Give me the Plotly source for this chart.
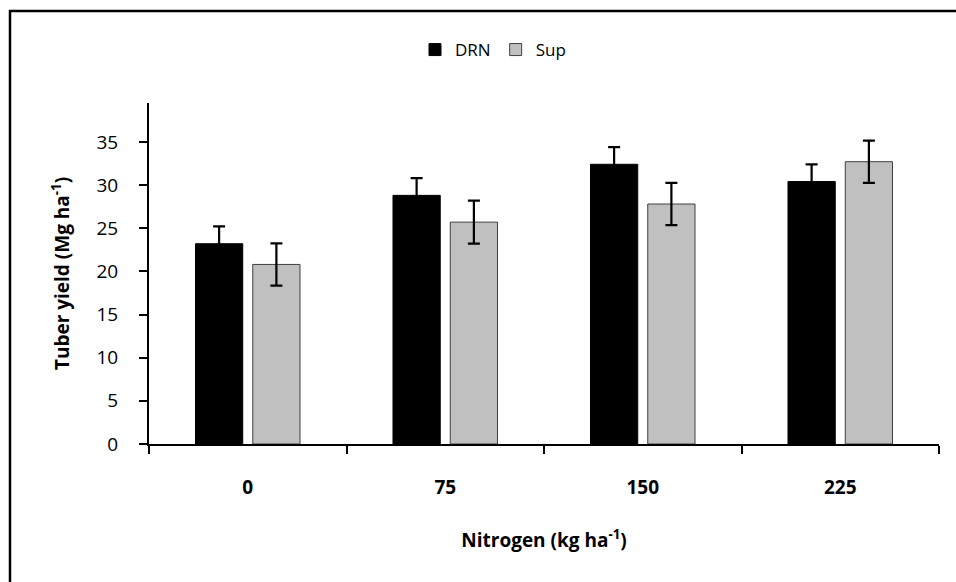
import plotly.graph_objects as go

categories = ["0", "75", "150", "225"]
drn = [23.2, 28.8, 32.4, 30.4]
drn_err = [2.0, 2.0, 2.0, 2.0]
sup = [20.8, 25.7, 27.8, 32.7]
sup_err = [2.45, 2.5, 2.45, 2.45]
y_ticks = [0, 5, 10, 15, 20, 25, 30, 35]

FONT = "'Open Sans', Lato, sans-serif"

fig = go.Figure()
fig.add_trace(go.Bar(
    name="DRN", x=categories, y=drn,
    marker=dict(color="#000000", line=dict(color="#000000", width=1)),
    error_y=dict(type="data", array=drn_err, visible=True, color="#000000", thickness=2.2, width=6),
))
fig.add_trace(go.Bar(
    name="Sup", x=categories, y=sup,
    marker=dict(color="#c0c0c0", line=dict(color="#404040", width=1)),
    error_y=dict(type="data", array=sup_err, visible=True, color="#000000", thickness=2.2, width=6),
))

W, H = 956, 582
L, T = 149, 103
R = W - 939
B = H - 444
pw = W - L - R
ph = H - T - B


def px_x(page_x):
    return (page_x - L) / pw


def px_y(page_y):
    return (H - B - page_y) / ph


fig.update_layout(
    width=W, height=H,
    margin=dict(l=L, r=R, t=T, b=B, pad=0),
    paper_bgcolor="white", plot_bgcolor="white",
    barmode="group", bargap=0.42, bargroupgap=0.175,
    font=dict(family=FONT, color="#000000", size=19),
    showlegend=True,
    legend=dict(orientation="h", x=px_x(493), xanchor="center",
                y=px_y(50), yanchor="middle",
                font=dict(size=17, family=FONT), itemwidth=30, traceorder="normal",
                bgcolor="rgba(0,0,0,0)", tracegroupgap=0),
    xaxis=dict(
        type="category", showline=True, linecolor="#000000", linewidth=2,
        ticks="outside", tickson="boundaries", ticklen=8, tickwidth=2, tickcolor="#000000",
        tickfont=dict(size=19, family=FONT, weight="bold"),
        ticklabelstandoff=25,
        showgrid=False, zeroline=False,
        title=dict(text="Nitrogen (kg ha<sup>-1</sup>)", font=dict(size=19, family=FONT, weight="bold"), standoff=35),
    ),
    yaxis=dict(
        range=[0, 39.5], tickvals=y_ticks, showline=True, linecolor="#000000", linewidth=2,
        ticks="outside", ticklen=8, tickwidth=2, tickcolor="#000000",
        tickfont=dict(size=19, family=FONT), ticklabelstandoff=17,
        showgrid=False, zeroline=False,
        title=dict(text="Tuber yield (Mg ha<sup>-1</sup>)", font=dict(size=19, family=FONT, weight="bold"), standoff=22),
    ),
    shapes=[
        dict(type="line", xref="paper", yref="paper",
             x0=px_x(9), x1=px_x(W + 20), y0=px_y(11), y1=px_y(11),
             line=dict(color="#000000", width=2.5), layer="below"),
        dict(type="line", xref="paper", yref="paper",
             x0=px_x(10), x1=px_x(10), y0=px_y(10), y1=px_y(H + 20),
             line=dict(color="#000000", width=2.5), layer="below"),
    ],
)

fig.write_html(
    "out.html",
    config={"displayModeBar": False},
    post_script="document.body.style.margin='0';document.body.style.overflow='hidden';",
)
